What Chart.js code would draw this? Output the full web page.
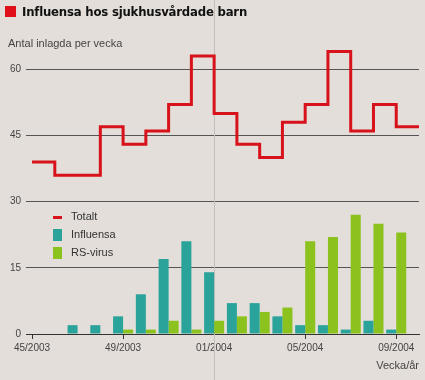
<!DOCTYPE html>
<html>
<head>
<meta charset="utf-8">
<script src="https://cdn.jsdelivr.net/npm/chart.js@4/dist/chart.umd.min.js"></script>
<style>
  html, body { margin: 0; padding: 0; }
  body { width: 425px; height: 380px; background: #e3ded9; position: relative; overflow: hidden; font-family: "Liberation Sans", Arial, sans-serif; }
  #wrap { position: absolute; left: 0; top: 0; width: 425px; height: 380px; }
  .title { position: absolute; left: 5px; top: 4px; font: bold 13px "DejaVu Sans Condensed", "Liberation Sans Narrow", sans-serif; color: #111; letter-spacing: -0.2px; }
  .title span.box { display: inline-block; width: 11px; height: 11px; background: #e0101a; vertical-align: -1px; margin-right: 6px; }
  .unit { position: absolute; left: 8px; top: 37px; font-size: 11px; color: #444; }
  .xtitle { position: absolute; right: 6px; top: 359px; font-size: 11px; color: #444; }
  #legend { position: absolute; left: 53px; top: 207px; font-size: 11px; color: #333; line-height: 18px; }
  #legend div { height: 18px; }
  #legend i { display: inline-block; width: 9px; margin-right: 9px; vertical-align: middle; }
</style>
</head>
<body>
<div id="wrap"><canvas id="chart" width="425" height="380"></canvas></div>
<div class="title"><span class="box"></span>Influensa hos sjukhusvårdade barn</div>
<div class="unit">Antal inlagda per vecka</div>
<div class="xtitle">Vecka/år</div>
<div id="legend"></div>
<script>
// weeks 45/2003 .. 10/2004, as running index from week 45
const weekLabels = ['45/2003','46/2003','47/2003','48/2003','49/2003','50/2003','51/2003','52/2003',
  '01/2004','02/2004','03/2004','04/2004','05/2004','06/2004','07/2004','08/2004','09/2004','10/2004'];
const totalt = [39, 36, 36, 47, 43, 46, 52, 63, 50, 43, 40, 48, 52, 64, 46, 52, 47, 47];
// bars start at week 47
const barStart = 2;
const influensa = [2, 2, 4, 9, 17, 21, 14, 7, 7, 4, 2, 2, 1, 3, 1];
const rsVirus = [0, 0, 1, 1, 3, 1, 3, 4, 5, 6, 21, 22, 27, 25, 23];
const yTicks = [0, 15, 30, 45, 60];
const xTicks = [0, 4, 8, 12, 16];

const red = '#d8121a', teal = '#2aa39a', green = '#8cc21e';

const toPoints = (vals, start) => vals.map((v, i) => ({ x: start + i, y: v }));

// thin grey line at the turn of the year, full height
const yearLine = {
  id: 'yearLine',
  beforeDatasetsDraw(chart) {
    const ctx = chart.ctx;
    const x = Math.round(chart.scales.x.getPixelForValue(8)) + 0.5;
    ctx.save();
    ctx.strokeStyle = '#c4c0bc';
    ctx.lineWidth = 1;
    ctx.beginPath();
    ctx.moveTo(x, 0);
    ctx.lineTo(x, chart.height);
    ctx.stroke();
    ctx.restore();
  }
};

new Chart(document.getElementById('chart'), {
  data: {
    datasets: [
      { type: 'line', label: 'Totalt', data: toPoints(totalt, 0), stepped: 'before',
        borderColor: red, borderWidth: 3, pointRadius: 0, fill: false, order: 0 },
      { type: 'bar', label: 'Influensa', data: toPoints(influensa, barStart),
        backgroundColor: teal, order: 1, categoryPercentage: 0.88, barPercentage: 1 },
      { type: 'bar', label: 'RS-virus', data: toPoints(rsVirus, barStart),
        backgroundColor: green, order: 1, categoryPercentage: 0.88, barPercentage: 1 }
    ]
  },
  options: {
    responsive: false,
    animation: false,
    layout: { padding: { left: 5, right: 6, top: 45, bottom: 23 } },
    plugins: { legend: { display: false }, tooltip: { enabled: false } },
    scales: {
      x: {
        type: 'linear', min: -0.26, max: 17, offset: false,
        grid: { offset: false, drawOnChartArea: false, drawTicks: true, tickLength: 5, color: '#333' },
        border: { color: '#333', width: 1 },
        afterBuildTicks: s => { s.ticks = xTicks.map(v => ({ value: v })); },
        ticks: {
          callback: v => weekLabels[v],
          color: '#444', font: { size: 10, family: 'Liberation Sans' }, maxRotation: 0, padding: 3
        }
      },
      y: {
        min: 0, max: 65.5,
        afterBuildTicks: s => { s.ticks = yTicks.map(v => ({ value: v })); },
        grid: { color: '#555', drawTicks: false, lineWidth: 1 },
        border: { display: false },
        ticks: { color: '#444', font: { size: 10, family: 'Liberation Sans' }, padding: 5 }
      }
    }
  },
  plugins: [yearLine]
});

const legend = document.getElementById('legend');
[['Totalt', red, 3], ['Influensa', teal, 12], ['RS-virus', green, 12]].forEach(([name, c, h]) => {
  const d = document.createElement('div');
  d.innerHTML = '<i style="background:' + c + ';height:' + h + 'px"></i>' + name;
  legend.appendChild(d);
});
</script>
</body>
</html>
